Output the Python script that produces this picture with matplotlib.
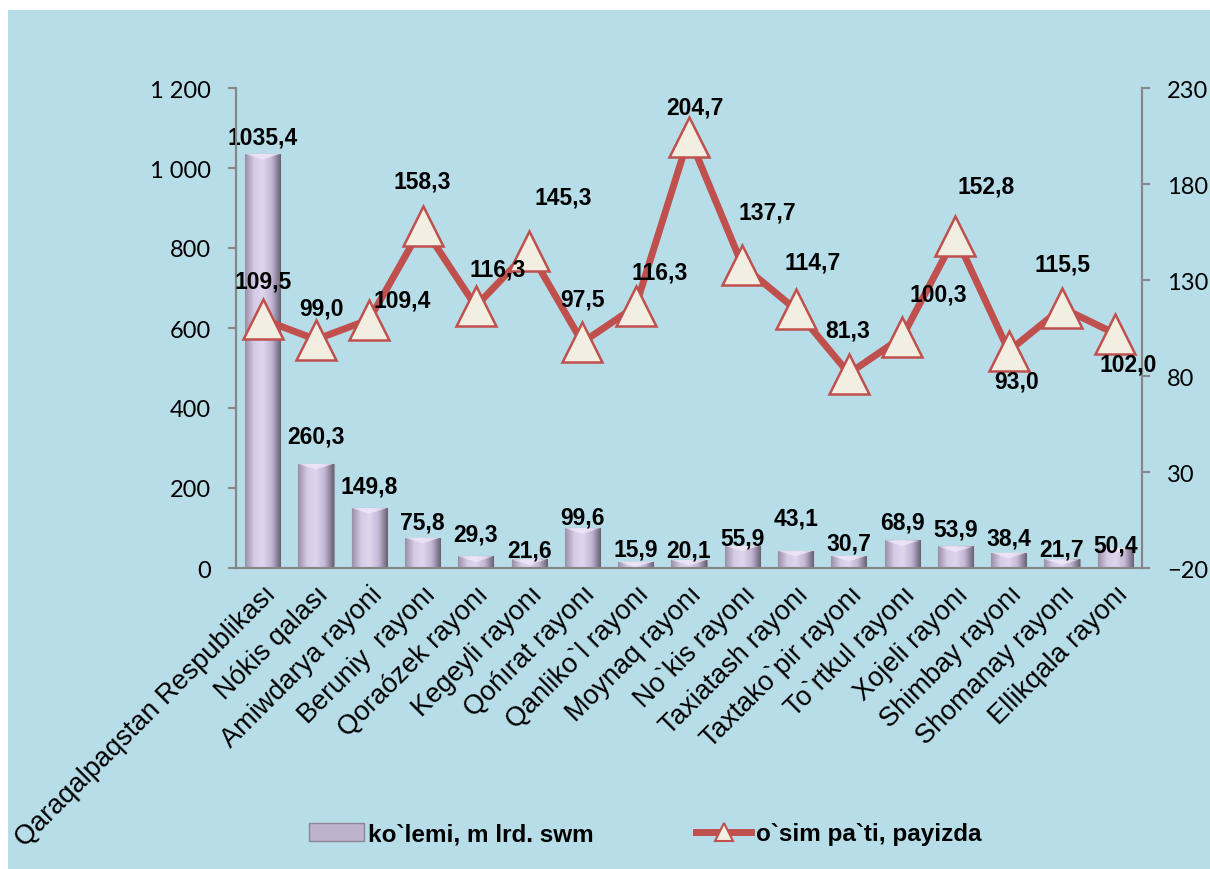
import matplotlib.pyplot as plt
import numpy as np
from matplotlib.patches import Rectangle
from matplotlib.lines import Line2D
from matplotlib.colors import LinearSegmentedColormap
from matplotlib.ticker import FuncFormatter

regions = ['Qaraqalpaqstan Respublikası', 'Nókis qalası', 'Amiwdarya rayoni',
           'Beruniy  rayonı', 'Qoraózek rayonı', 'Kegeyli rayonı', 'Qońırat rayonı',
           'Qanliko`l rayonı', 'Moynaq rayonı', 'No`kis rayonı', 'Taxiatash rayonı',
           'Taxtako`pir rayonı', 'To`rtkul rayonı', 'Xojeli rayonı', 'Shimbay rayonı',
           'Shomanay rayonı', 'Ellikqala rayonı']
volume = [1035.4, 260.3, 149.8, 75.8, 29.3, 21.6, 99.6, 15.9, 20.1,
          55.9, 43.1, 30.7, 68.9, 53.9, 38.4, 21.7, 50.4]
growth = [109.5, 99.0, 109.4, 158.3, 116.3, 145.3, 97.5, 116.3, 204.7,
          137.7, 114.7, 81.3, 100.3, 152.8, 93.0, 115.5, 102.0]
volume_name = 'ko`lemi, m lrd. swm'
growth_name = 'o`sim pa`ti, payizda'

# label nudges in pixels (as moved by hand in the original)
bar_lab_dy = [17, 28, 22, 16, 22, 9, 11, 13, 10, 8, 33, 13, 18, 17, 15, 10, 3]
line_lab_off = [(0, 38), (6, 32), (33, 20), (0, 45), (22, 37), (34, 54), (0, 43),
                (24, 34), (6, 30), (25, 53), (17, 47), (-1, 44), (36, 43), (31, 50),
                (8, -30), (0, 44), (13, -30)]

BG = '#b7dde8'
RED = '#c0504d'
LAB = dict(family='Liberation Sans', fontsize=16.5, fontweight='bold', color='black')

fig = plt.figure(figsize=(12.1, 8.7), dpi=100)
fig.patch.set_facecolor('white')
fig.patches.append(Rectangle((8 / 1210, 0), 1, (870 - 11) / 870, transform=fig.transFigure,
                             facecolor=BG, edgecolor='none', zorder=-10))

ax = fig.add_axes([236 / 1210, 301 / 870, 906 / 1210, 480 / 870])
ax.set_facecolor('none')
ax2 = ax.twinx()

x = np.arange(len(regions))
w = 0.66
bars = ax.bar(x, volume, width=w, color='#cdc2dc', edgecolor='#9a93a2', linewidth=0.8, zorder=2)

# cylinder-ish shading on each bar
cmap = LinearSegmentedColormap.from_list('cyl', ['#9a90a8', '#d6cbe6', '#dfd6ee', '#c3b6d4', '#6a6174'])
grad = np.linspace(0, 1, 64).reshape(1, -1)
for b in bars:
    x0, h = b.get_x(), b.get_height()
    im = ax.imshow(grad, extent=[x0, x0 + w, 0, h], aspect='auto', cmap=cmap, zorder=2.1)
    im.set_clip_path(b)
    top = min(h, 14)
    ax.fill([x0, x0 + w, x0 + w / 2], [h, h, h - top], color='#f3ecfb', alpha=0.7, zorder=2.2, lw=0)

for xi, v, dy in zip(x, volume, bar_lab_dy):
    ax.annotate(f'{v:.1f}'.replace('.', ','), (xi, v), xytext=(0, dy), textcoords='offset pixels',
                ha='center', va='center', zorder=5, **LAB)

ax.set_xlim(-0.5, len(regions) - 0.5)
ax.set_ylim(0, 1200)
ax.set_yticks(np.arange(0, 1201, 200))
ax.yaxis.set_major_formatter(FuncFormatter(lambda v, p: f'{v:,.0f}'.replace(',', ' ')))

ax2.plot(x, growth, color=RED, lw=5, marker='^', markersize=29, markerfacecolor='#f3eee2',
         markeredgecolor=RED, markeredgewidth=1.8, zorder=3)
for xi, v, (dx, dy) in zip(x, growth, line_lab_off):
    ax2.annotate(f'{v:.1f}'.replace('.', ','), (xi, v), xytext=(dx, dy), textcoords='offset pixels',
                 ha='center', va='center', zorder=5, **LAB)
ax2.set_ylim(-20, 230)
ax2.set_yticks(np.arange(-20, 231, 50))

for a in (ax, ax2):
    for s in a.spines.values():
        s.set_color('#868686')
        s.set_linewidth(1.5)
    a.spines['top'].set_visible(False)
    a.tick_params(axis='y', length=6, width=1.5, color='#868686', labelsize=17, pad=12)
    for t in a.get_yticklabels():
        t.set_family('Lato')

ax.set_xticks(x)
ax.set_xticklabels(regions, rotation=45, ha='right', rotation_mode='anchor',
                   family='Liberation Sans', fontsize=19.5)
ax.tick_params(axis='x', length=0, pad=9)

bar_h = Rectangle((0, 0), 1, 1, facecolor='#bdb3cc', edgecolor='#8c8496', lw=1)
line_h = Line2D([], [], color=RED, lw=5, marker='^', markersize=13,
                markerfacecolor='#f3eee2', markeredgecolor=RED, markeredgewidth=1.5)
fig.legend([bar_h, line_h], [volume_name, growth_name], loc='center', ncol=2,
           bbox_to_anchor=(645 / 1210, 35 / 870), frameon=False, handlelength=2.26,
           handletextpad=0.2, columnspacing=4.2,
           prop=dict(family='Liberation Sans', size=17.5, weight='bold'))

fig.savefig('out.png', dpi=100, facecolor=fig.get_facecolor())
